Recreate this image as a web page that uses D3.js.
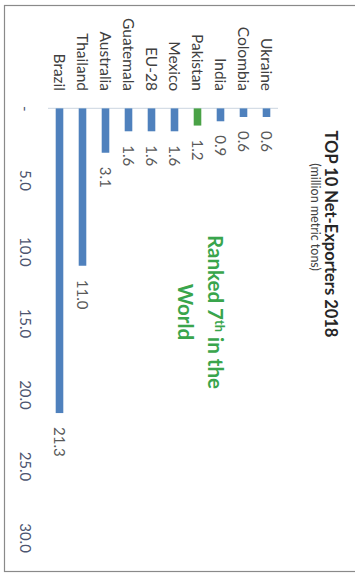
<!DOCTYPE html>
<html><head><meta charset="utf-8">
<script src="https://cdn.jsdelivr.net/npm/d3@7"></script>
<style>html,body{margin:0;padding:0;background:#fff;}svg{display:block;}</style>
</head><body>
<script>
const categories = ["Ukraine","Colombia","India","Pakistan","Mexico","EU-28","Guatemala","Australia","Thailand","Brazil"];
const values = [0.6,0.6,0.9,1.2,1.6,1.6,1.6,3.1,11.0,21.3];
const highlight = ["Pakistan"];
const tickValues = [0,5,10,15,20,25,30];
const tickLabels = ["-","5.0","10.0","15.0","20.0","25.0","30.0"];
const titleText = "TOP 10 Net-Exporters 2018";
const subtitleText = "(million metric tons)";

const W = 355, H = 575;
const svg = d3.select("body").append("svg").attr("width", W).attr("height", H);
svg.append("rect").attr("width", W).attr("height", H).attr("fill", "#fff");
// chart area border
svg.append("rect").attr("x", 4.5).attr("y", 5.5).attr("width", 400).attr("height", 566)
  .attr("fill", "none").attr("stroke", "#8a8a8a").attr("stroke-width", 1.2);

// original (unrotated) chart frame: width 575, height 355, rotated 90deg clockwise
const g = svg.append("g").attr("transform", `translate(${W},0) rotate(90)`);
const font = "Lato, 'Open Sans', sans-serif";

const x = d3.scaleLinear().domain([0, 30]).range([108.4, 537.5]);
const y = d3.scaleBand().domain(categories).range([77, 307]).paddingInner(0.67).paddingOuter(0.335);

// category axis line
g.append("line").attr("x1", x(0)).attr("x2", x(0)).attr("y1", 77).attr("y2", 307)
  .attr("stroke", "#d5dde6").attr("stroke-width", 1.2);

// bars
g.selectAll("rect.bar").data(categories).join("rect").attr("class", "bar")
  .attr("x", x(0)).attr("y", d => y(d))
  .attr("width", (d, i) => x(values[i]) - x(0)).attr("height", y.bandwidth())
  .attr("fill", d => highlight.includes(d) ? "#4aa246" : "#4f81bd");

// category labels
g.selectAll("text.cat").data(categories).join("text").attr("class", "cat")
  .attr("x", 91).attr("y", d => y(d) + y.bandwidth() / 2).attr("dy", "0.35em")
  .attr("text-anchor", "end").attr("font-family", font).attr("font-size", 15.5)
  .attr("fill", "#404040").text(d => d);

// value labels
g.selectAll("text.val").data(categories).join("text").attr("class", "val")
  .attr("x", (d, i) => x(values[i]) + 14).attr("y", d => y(d) + y.bandwidth() / 2).attr("dy", "0.35em")
  .attr("text-anchor", "start").attr("font-family", font).attr("font-size", 15)
  .attr("fill", "#595959").text((d, i) => values[i].toFixed(1));

// value axis (labels only)
const axis = d3.axisBottom(x).tickValues(tickValues).tickFormat((d, i) => tickLabels[i]).tickSize(0).tickPadding(0);
const ax = g.append("g").attr("transform", "translate(0,324)").call(axis);
ax.select(".domain").remove();
ax.selectAll("text").attr("font-family", font).attr("font-size", 15).attr("fill", "#4d5570").attr("dy", "0.71em");

// title
g.append("text").attr("x", 234).attr("y", 30).attr("text-anchor", "middle")
  .attr("font-family", font).attr("font-weight", "bold").attr("font-size", 16.5)
  .attr("fill", "#262626").text(titleText);
g.append("text").attr("x", 217).attr("y", 44.5).attr("text-anchor", "middle")
  .attr("font-family", font).attr("font-size", 12.5)
  .attr("fill", "#404040").text(subtitleText);

// annotation
const ann = g.append("text").attr("text-anchor", "middle").attr("font-family", font)
  .attr("font-weight", "bold").attr("font-size", 20.5).attr("fill", "#39a54c");
const l1 = ann.append("tspan").attr("x", 312).attr("y", 147);
l1.append("tspan").text("Ranked 7");
l1.append("tspan").attr("font-size", 13).attr("dy", "-0.55em").text("th");
l1.append("tspan").attr("dy", "0.34em").text(" in the");
ann.append("tspan").attr("x", 312).attr("y", 177).text("World");
</script>
</body></html>
